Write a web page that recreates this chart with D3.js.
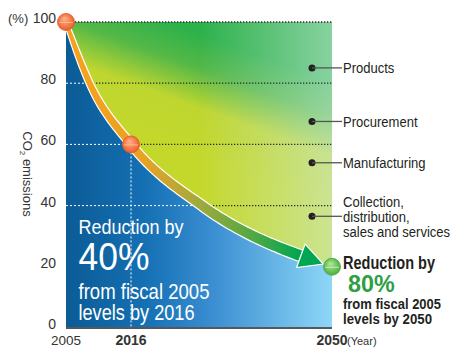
<!DOCTYPE html>
<html>
<head>
<meta charset="utf-8">
<script src="https://cdn.jsdelivr.net/npm/d3@7"></script>
<style>
  body { margin: 0; background: #fff; }
  svg { display: block; }
  text { font-family: "Liberation Sans", Arial, sans-serif; fill: #231f20; }
</style>
</head>
<body>
<svg class="chart" width="452" height="347"></svg>
<script>
// values
const yTicks = [0, 20, 40, 60, 80, 100];
const yearTicks = [2005, 2016, 2050];
const yearLabels = ["2005", "2016", "2050"];
const pathYears = [2005, 2009, 2016, 2028, 2050];
const pathValues = [100, 80, 60, 40, 20];
const milestoneYears = [2005, 2016, 2050];
const milestoneValues = [100, 60, 20];
const stages = [["Products"], ["Procurement"], ["Manufacturing"], ["Collection,", "distribution,", "sales and services"]];
const stageLevels = [85, 67.5, 54, 36.5];

var margin = {top: 22, left: 66},
    plotRight = 332,
    plotBottom = 328;

var x = d3.scaleLinear().domain([2005, 2050]).range([margin.left, plotRight]);
var y = d3.scaleLinear().domain([0, 100]).range([plotBottom, margin.top]);

var svg = d3.select(".chart");
var defs = svg.append("defs");

// squeeze a text to a width (no condensed face installed)
const fitW = (t, w) => t.attr("textLength", w).attr("lengthAdjust", "spacingAndGlyphs");
const narrow = (t, k) => fitW(t, t.node().getComputedTextLength() * k);

const addLinear = (id, pos, stops) => {
  var g = defs.append("linearGradient").attr("id", id)
      .attr("gradientUnits", "userSpaceOnUse")
      .attr("x1", pos[0]).attr("y1", pos[1]).attr("x2", pos[2]).attr("y2", pos[3]);
  stops.forEach(s => g.append("stop").attr("offset", s[0]).attr("stop-color", s[1])
      .attr("stop-opacity", s[2] === undefined ? 1 : s[2]));
};

addLinear("greenBg", [150, 140, 190, 30], [[0, "#c4d82c"], [0.4, "#bed630"], [0.72, "#55b847"], [1, "#2db14b"]]);
addLinear("haze", [200, 0, plotRight, 0], [[0, "#d2ede6", 0], [1, "#d2ede6", 0.55]]);
addLinear("blueBg", [margin.left, 0, plotRight, 0], [[0, "#0b5b95"], [0.3, "#1570b4"], [0.55, "#3a8ed1"], [1, "#8ed7f8"]]);
addLinear("bandGrad", [margin.left, 0, 325, 0], [[0, "#f7a11c"], [0.3, "#eaa224"], [0.5, "#a6aa3c"], [0.75, "#45a846"], [0.9, "#00a651"], [1, "#00a651"]]);

const addBall = (id, c0, c1, c2) => {
  var g = defs.append("radialGradient").attr("id", id).attr("fx", "40%").attr("fy", "30%").attr("r", "60%");
  g.append("stop").attr("offset", 0).attr("stop-color", c0);
  g.append("stop").attr("offset", 0.6).attr("stop-color", c1);
  g.append("stop").attr("offset", 1).attr("stop-color", c2);
};
addBall("orangeBall", "#ffb48c", "#f47a45", "#e0522a");
addBall("greenBall", "#b6e6a0", "#6cc35a", "#3f9f3e");

var pts = pathYears.map((d, i) => [x(d), y(pathValues[i])]);
var line = d3.line().curve(d3.curveMonotoneX);
var area = d3.area().curve(d3.curveMonotoneX).x(d => d[0]).y0(y(0)).y1(d => d[1]);

defs.append("clipPath").attr("id", "blueClip").append("path").attr("d", area(pts));

// background above the curve
svg.append("rect").attr("x", margin.left).attr("y", margin.top)
    .attr("width", plotRight - margin.left).attr("height", plotBottom - margin.top)
    .attr("fill", "url(#greenBg)");
svg.append("rect").attr("x", margin.left).attr("y", margin.top)
    .attr("width", plotRight - margin.left).attr("height", plotBottom - margin.top)
    .attr("fill", "url(#haze)");

// dark dotted grid
svg.append("g").selectAll("line")
    .data(yTicks.filter(d => d > 0))
  .enter().append("line")
    .attr("x1", margin.left).attr("x2", plotRight)
    .attr("y1", d => y(d)).attr("y2", d => y(d))
    .attr("stroke", "#2b2b2b").attr("stroke-width", 1.3).attr("stroke-dasharray", "1.3,1.7");

// blue area under the curve
svg.append("path").attr("d", area(pts)).attr("fill", "url(#blueBg)");

// left text block
var leftX = x(2005) + 12.5;
var block = svg.append("g").attr("class", "leftBlock").style("fill", "#fff");

var redL = block.append("text").attr("x", leftX).attr("y", 233.5)
    .style("font-size", "21px").style("fill", "#fff").text("Reduction by");
fitW(redL, 105);
fitW(block.append("text").attr("x", leftX).attr("y", 270)
    .style("font-size", "38.5px").style("fill", "#fff").text("40%"), 71);
fitW(block.append("text").attr("x", leftX).attr("y", 298.5)
    .style("font-size", "21.5px").style("fill", "#fff").text("from fiscal 2005"), 131);
fitW(block.append("text").attr("x", leftX).attr("y", 319.5)
    .style("font-size", "21.5px").style("fill", "#fff").text("levels by 2016"), 116);

var rb = redL.node().getBBox();
var gapMask = defs.append("mask").attr("id", "gapMask");
gapMask.append("rect").attr("x", 0).attr("y", 0).attr("width", 452).attr("height", 347).attr("fill", "#fff");
gapMask.append("rect").attr("x", rb.x - 4).attr("y", y(20) - 4).attr("width", rb.width).attr("height", 8).attr("fill", "#000");

// white dotted grid inside blue
var wg = svg.insert("g", ".leftBlock").attr("clip-path", "url(#blueClip)");
wg.selectAll("line")
    .data(yTicks.filter(d => d > 0))
  .enter().append("line")
    .attr("x1", margin.left).attr("x2", plotRight)
    .attr("y1", d => y(d)).attr("y2", d => y(d))
    .attr("mask", d => d === 20 ? "url(#gapMask)" : null)
    .attr("stroke", "#fff").attr("stroke-width", 1).attr("stroke-dasharray", "2,2");
wg.append("line")
    .attr("x1", x(2016)).attr("x2", x(2016))
    .attr("y1", y(60)).attr("y2", y(0))
    .attr("stroke", "#fff").attr("stroke-width", 1).attr("stroke-dasharray", "2,2");

// base line
svg.insert("line", ".leftBlock")
    .attr("x1", margin.left).attr("x2", plotRight)
    .attr("y1", plotBottom).attr("y2", plotBottom)
    .attr("stroke", "#55595e").attr("stroke-width", 2);

// tapered band with arrow
var center = svg.append("path").attr("d", line(pts)).attr("fill", "none");
var node = center.node();
var L = node.getTotalLength();
var arrowLen = 24, tipGap = 9, Lend = L - tipGap - arrowLen;

const tangent = (s) => {
  var a = node.getPointAtLength(Math.max(s - 0.5, 0)),
      b = node.getPointAtLength(Math.min(s + 0.5, L));
  var dx = b.x - a.x, dy = b.y - a.y, n = Math.hypot(dx, dy);
  return [dx / n, dy / n];
};

var upper = [], lower = [];
d3.range(0, 81).forEach(i => {
  var s = Lend * i / 80, p = node.getPointAtLength(s), t = tangent(s);
  var hw = 1.8 + 4.2 * Math.sqrt(i / 80);
  upper.push([p.x + t[1] * hw, p.y - t[0] * hw]);
  lower.push([p.x - t[1] * hw, p.y + t[0] * hw]);
});
var bandPts = upper.concat(lower.reverse());
svg.append("path").attr("d", d3.line()(bandPts) + "Z")
    .attr("fill", "url(#bandGrad)").attr("stroke", "#fff").attr("stroke-width", 1.2);

var pe = node.getPointAtLength(Lend), te = tangent(Lend), hw = 12.5;
var head = [
  [pe.x + te[1] * hw, pe.y - te[0] * hw],
  [pe.x + te[0] * arrowLen, pe.y + te[1] * arrowLen],
  [pe.x - te[1] * hw, pe.y + te[0] * hw]
];
svg.append("path").attr("d", d3.line()(head) + "Z")
    .attr("fill", "#00a651").attr("stroke", "#fff").attr("stroke-width", 1.2)
    .attr("stroke-linejoin", "miter");

// milestone balls
var balls = svg.append("g").selectAll("g")
    .data(milestoneYears.map((d, i) => [d, milestoneValues[i]]))
  .enter().append("g")
    .attr("transform", d => `translate(${x(d[0])},${y(d[1])})`);
balls.append("circle").attr("r", 8.5)
    .attr("fill", (d, i) => i === 2 ? "url(#greenBall)" : "url(#orangeBall)")
    .attr("stroke", (d, i) => i === 2 ? "#4aa845" : "#e8562c").attr("stroke-width", 0.8);
balls.append("line").attr("x1", -7).attr("x2", 7).attr("y1", 0.5).attr("y2", 0.5)
    .attr("stroke", (d, i) => i === 2 ? "#d6f2c8" : "#ffc2a0").attr("stroke-width", 1).attr("opacity", 0.8);

// y axis labels
svg.append("g").selectAll("text")
    .data(yTicks)
  .enter().append("text")
    .attr("x", 56).attr("y", d => y(d) + 1)
    .attr("text-anchor", "end")
    .style("font-size", "14px").style("fill", "#333")
    .text(d => d);
svg.append("text").attr("x", 8).attr("y", y(100) + 1)
    .style("font-size", "13px").style("fill", "#333").text("(%)");

var yTitle = svg.append("text")
    .attr("transform", `translate(23,${y(50) - 1}) rotate(90)`)
    .attr("text-anchor", "middle").style("font-size", "13px").style("fill", "#333");
yTitle.append("tspan").text("CO");
yTitle.append("tspan").attr("dy", 3).style("font-size", "8px").text("2");
yTitle.append("tspan").attr("dy", -3).text(" emissions");

// x axis labels
svg.append("g").selectAll("text")
    .data(yearTicks)
  .enter().append("text")
    .attr("x", d => x(d)).attr("y", 345)
    .attr("text-anchor", "middle")
    .style("font-size", (d, i) => i === 0 ? "13.5px" : "14px")
    .style("font-weight", (d, i) => i === 0 ? "normal" : "bold")
    .style("fill", "#333")
    .text((d, i) => yearLabels[i]);
svg.append("text").attr("x", x(2050) + 15).attr("y", 345)
    .style("font-size", "11px").style("fill", "#333").text("(Year)");

// stage labels on the right
var stageG = svg.append("g").selectAll("g")
    .data(stages)
  .enter().append("g")
    .attr("transform", (d, i) => `translate(312,${y(stageLevels[i])})`);
stageG.append("circle").attr("r", 3.5).attr("fill", "#231f20");
stageG.append("line").attr("x1", 0).attr("x2", 30).attr("stroke", "#555").attr("stroke-width", 1.3);
stageG.each(function(d) {
  var g = d3.select(this), top = 5.5 - (d.length - 1) * 7.5 * 1.95 / 2;
  d.forEach((s, j) => {
    narrow(g.append("text").attr("x", 31).attr("y", top + j * 15)
        .style("font-size", "15.5px").text(s), 0.84);
  });
});

// right summary
var rx = 343;
fitW(svg.append("text").attr("x", rx).attr("y", 269)
    .style("font-size", "18px").style("font-weight", "bold").text("Reduction by"), 92);
svg.append("text").attr("x", rx + 5).attr("y", 291.5)
    .style("font-size", "23.3px").style("font-weight", "bold").style("fill", "#2f9e44").text("80%");
fitW(svg.append("text").attr("x", rx).attr("y", 309)
    .style("font-size", "14.5px").style("font-weight", "bold").text("from fiscal 2005"), 98);
fitW(svg.append("text").attr("x", rx).attr("y", 323.5)
    .style("font-size", "14.5px").style("font-weight", "bold").text("levels by 2050"), 89);
</script>
</body>
</html>
